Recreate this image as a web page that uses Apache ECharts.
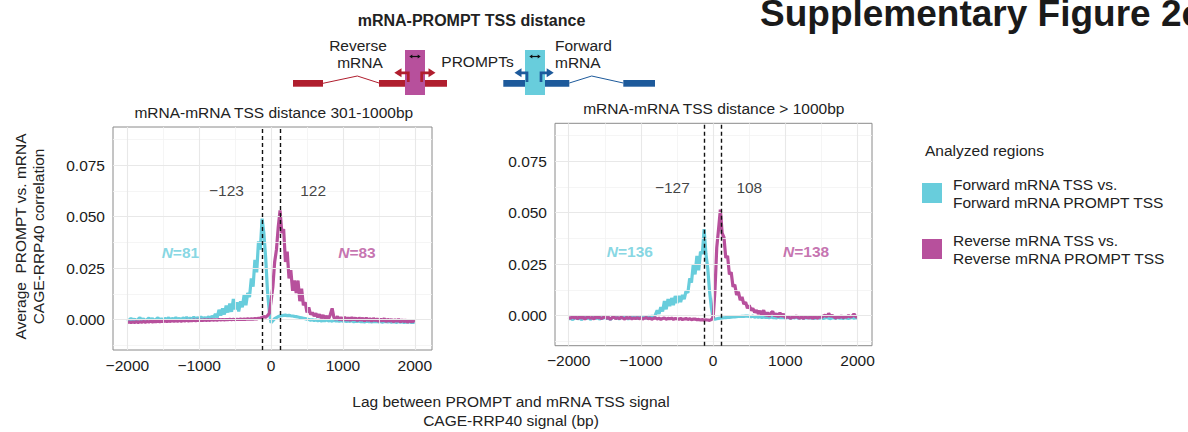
<!DOCTYPE html>
<html>
<head>
<meta charset="utf-8">
<script src="https://cdn.jsdelivr.net/npm/echarts@6/dist/echarts.min.js"></script>
<style>
html,body{margin:0;padding:0;background:#fff;}
#chart{width:1188px;height:432px;}
</style>
</head>
<body>
<div id="chart"></div>
<script>
// Lag between PROMPT and mRNA TSS signal (bp)
const lags = [
  -2000,-1975,-1950,-1925,-1900,-1875,-1850,-1825,-1800,-1775,-1750,-1725,-1700,-1675,-1650,-1625,-1600,-1575,-1550,-1525,
  -1500,-1475,-1450,-1425,-1400,-1375,-1350,-1325,-1300,-1275,-1250,-1225,-1200,-1175,-1150,-1125,-1100,-1075,-1050,-1025,
  -1000,-975,-950,-925,-900,-875,-850,-825,-800,-775,-750,-725,-700,-675,-650,-625,-600,-575,-550,-525,
  -500,-475,-450,-425,-400,-375,-350,-325,-300,-275,-250,-225,-200,-175,-150,-125,-100,-75,-50,-25,
  0,25,50,75,100,125,150,175,200,225,250,275,300,325,350,375,400,425,450,475,
  500,525,550,575,600,625,650,675,700,725,750,775,800,825,850,875,900,925,950,975,
  1000,1025,1050,1075,1100,1125,1150,1175,1200,1225,1250,1275,1300,1325,1350,1375,1400,1425,1450,1475,
  1500,1525,1550,1575,1600,1625,1650,1675,1700,1725,1750,1775,1800,1825,1850,1875,1900,1925,1950,1975,
  2000
];

// Average PROMPT vs. mRNA correlation, in thousandths
// mRNA-mRNA TSS distance 301-1000bp
const forwardA = [
  -0.8,-0.2,0.7,-0.5,0.4,-0.7,0.2,1.0,-0.4,0.5,-0.6,0.1,0.8,-0.3,0.6,-0.5,0.2,0.9,-0.2,0.5,
  -0.4,0.7,0.0,1.0,-0.3,0.6,0.1,1.1,0.0,0.7,-0.2,0.9,0.2,1.2,0.1,0.8,0.3,1.3,0.2,1.0,
  0.5,1.3,0.6,1.0,0.4,1.4,0.8,1.6,1.1,2.8,1.0,4.8,2.0,5.5,2.5,6.8,3.5,7.8,3.8,10.0,
  5.0,8.5,4.0,9.0,6.0,12.0,7.0,13.0,11.0,20.0,16.0,29.0,23.0,38.0,34.0,49.0,42.0,30.0,14.0,4.0,
  -1.5,-0.5,0.5,1.0,1.5,1.8,2.0,2.1,2.2,2.0,2.1,1.9,1.8,1.6,1.5,1.3,1.1,0.9,0.7,0.5,
  0.3,0.1,-0.2,0.0,-0.4,-0.1,-0.5,-0.2,-0.6,-0.3,-0.5,-0.1,-0.6,-0.4,-0.7,-0.3,-0.6,-0.5,-0.8,-0.4,
  -0.7,-0.5,-0.9,-0.6,-0.8,-0.5,-1.0,-0.7,-0.9,-0.6,-1.0,-0.8,-1.1,-0.7,-0.9,-0.8,-1.1,-0.9,-1.0,-0.8,
  -1.1,-0.9,-1.2,-0.8,-1.0,-1.1,-0.9,-1.2,-1.0,-1.1,-1.3,-0.9,-1.2,-1.0,-1.3,-1.1,-1.2,-1.0,-1.3,-1.2,
  -1.3
];
const reverseA = [
  -1.4,-1.1,-1.4,-1.1,-1.3,-1.0,-1.3,-1.0,-1.2,-0.9,-1.2,-0.9,-1.1,-0.8,-1.1,-0.8,-1.0,-0.7,-1.0,-0.7,
  -0.9,-0.6,-0.9,-0.6,-0.8,-0.5,-0.8,-0.5,-0.7,-0.4,-0.7,-0.4,-0.6,-0.3,-0.6,-0.3,-0.5,-0.2,-0.5,-0.2,
  -0.4,-0.2,-0.3,-0.1,-0.3,-0.1,-0.3,0.0,-0.2,0.0,-0.2,0.1,-0.1,0.1,-0.1,0.1,0.0,0.2,0.0,0.2,
  0.0,0.2,0.1,0.3,0.1,0.3,0.2,0.4,0.2,0.4,0.3,0.5,0.4,0.7,0.8,1.1,1.5,1.2,2.0,3.0,
  9.0,16.0,28.0,34.0,45.0,53.0,42.0,44.0,28.0,33.0,20.0,24.0,14.0,19.0,13.0,19.0,9.0,15.0,7.0,8.5,
  3.5,6.0,2.5,3.5,1.8,3.0,1.2,2.6,0.8,2.2,0.6,1.8,0.4,2.5,5.5,1.0,0.2,1.6,-0.2,1.2,
  -0.3,1.3,-0.4,1.0,-0.5,1.2,-0.2,0.9,-0.6,1.0,-0.4,0.8,-0.7,0.9,-0.5,0.6,-0.8,0.7,-0.6,0.5,
  -0.9,0.4,-0.7,0.6,-1.0,0.3,-0.8,0.2,-1.1,0.1,-0.9,0.3,-1.2,0.0,-1.0,-0.1,-1.3,-0.2,-1.1,-0.3,
  -1.2
];
// mRNA-mRNA TSS distance > 1000bp
const forwardB = [
  -1.8,-1.2,-2.0,-1.5,-0.8,-1.7,-1.1,-2.1,-1.3,-0.6,-1.6,-1.0,-1.9,-1.2,-0.5,-1.5,-0.9,-1.8,-1.1,-1.4,
  -0.7,-1.6,-1.0,-1.9,-1.2,-0.4,-1.5,-0.9,-1.7,-1.1,-0.6,-1.4,-0.8,-1.8,-1.0,-0.5,-1.3,-0.7,-1.6,-0.9,
  -0.4,-1.2,-0.6,-1.5,-0.3,-0.9,-0.2,-1.0,0.3,2.5,0.8,4.0,2.0,7.0,3.0,8.0,4.5,8.5,5.0,9.5,
  6.0,9.5,6.5,10.0,8.0,12.0,11.0,18.0,16.0,25.0,20.0,29.0,22.0,31.0,30.0,42.0,30.0,23.0,12.0,4.0,
  -1.5,-1.8,-1.6,-1.4,-1.3,-1.2,-1.1,-1.0,-0.9,-0.9,-0.8,-0.7,-0.7,-0.6,-0.5,-0.5,-0.4,-0.4,-0.3,-0.3,
  -0.4,-0.6,-0.3,-0.8,-0.5,-0.9,-0.6,-1.0,-0.7,-0.9,-0.8,-1.1,-0.7,-1.0,-0.9,-1.2,-0.8,-1.1,-0.9,-1.0,
  -1.2,-0.9,-1.1,-1.3,-1.0,-1.2,-0.9,-1.3,-1.1,-1.0,-1.4,-1.1,-1.2,-1.0,-1.3,-1.1,-1.4,-1.2,-1.0,-1.3,
  -1.1,-1.4,-1.2,-1.0,-1.3,-1.5,-1.1,-1.2,-1.4,-1.0,-1.3,-1.2,-1.5,-1.1,-1.3,-1.4,-1.2,-1.0,-1.3,-1.1,
  -1.2
];
const reverseB = [
  -0.8,-1.5,-0.5,-1.2,-0.9,-1.6,-0.4,-1.3,-0.7,-1.8,-1.0,-0.6,-1.4,-0.9,-1.7,-0.5,-1.1,-0.8,-1.5,-1.0,
  -0.6,-1.4,-0.9,-1.9,-1.1,-0.7,-1.5,-1.0,-1.6,-0.8,-1.3,-1.8,-1.0,-1.4,-0.9,-1.7,-1.2,-1.5,-1.0,-1.6,
  -1.1,-1.7,-1.3,-1.0,-1.6,-1.2,-1.8,-1.4,-1.1,-1.7,-1.3,-1.9,-1.5,-1.2,-1.8,-1.4,-1.6,-1.3,-1.9,-1.5,
  -1.6,-1.8,-1.4,-2.0,-1.7,-1.5,-1.9,-1.6,-2.0,-1.8,-1.7,-2.1,-1.9,-2.2,-2.0,-2.3,-2.1,-2.2,-2.4,-2.0,
  -1.0,12.0,33.0,42.0,51.5,40.0,38.0,28.0,29.0,20.0,21.0,14.0,15.0,10.0,11.5,7.5,9.0,5.5,6.5,3.5,
  5.0,2.5,3.5,1.5,2.5,0.8,2.2,0.2,2.6,-0.2,1.5,-0.5,1.2,2.0,-0.4,1.0,-0.8,1.4,-0.6,0.8,
  -1.2,-0.4,-0.9,-1.4,-0.5,-1.1,-0.2,-1.0,-1.3,-0.6,-1.5,-0.7,-1.0,-1.2,-0.4,-1.4,-0.8,-1.0,-1.3,-0.5,
  -0.9,-0.3,0.2,-0.6,1.0,-0.4,0.0,-0.8,-1.2,-0.5,-1.0,-0.2,-1.1,-0.6,-0.8,0.0,-0.7,-0.4,0.8,-0.6,
  -0.9
];

// Lags of the correlation peaks (dashed lines)
const peakLagsA = [-123, 122];
const peakLagsB = [-127, 108];
// Number of regions per group
const countsA = [81, 83];
const countsB = [136, 138];

const panelTitles = ['mRNA-mRNA TSS distance 301-1000bp', 'mRNA-mRNA TSS distance > 1000bp'];
const seriesNames = ['Forward mRNA TSS vs.\nForward mRNA PROMPT TSS', 'Reverse mRNA TSS vs.\nReverse mRNA PROMPT TSS'];
const xTicks = [-2000, -1000, 0, 1000, 2000];
const xMinorTicks = [-1500, -500, 500, 1500];
const yTicks = [0, 25, 50, 75];
const yMinorTicks = [-12.5, 12.5, 37.5, 62.5, 87.5];

const FONT = '"Liberation Sans", Arial, Helvetica, sans-serif';
const CYAN = '#68CDDC';
const MAGENTA = '#B7509C';
const RED = '#B01E2E';
const BLUE = '#1D5A9B';
const FS = 15.5;

const minus = v => (v < 0 ? '\u2212' + Math.abs(v) : String(v));
const pairs = vals => lags.map((l, i) => [l, vals[i]]);

const grids = [
  { left: 113, top: 127, width: 319, height: 223 },
  { left: 555, top: 123.3, width: 317, height: 222.4 }
];
const xRanges = [[-2200, 2240], [-2190, 2200]];

function xAxisFor(i) {
  return {
    type: 'value', gridIndex: i, min: xRanges[i][0], max: xRanges[i][1],
    axisLine: { show: false },
    splitLine: { show: false },
    axisTick: { show: true, customValues: xTicks, length: 5, lineStyle: { color: '#333', width: 1 } },
    axisLabel: { customValues: xTicks, formatter: minus, margin: 7, color: '#1a1a1a', fontSize: FS, fontFamily: FONT }
  };
}
function yAxisFor(i) {
  return {
    type: 'value', gridIndex: i, min: -14.7, max: 93.5,
    axisLine: { show: false },
    splitLine: { show: false },
    axisTick: { show: true, customValues: yTicks, length: 5, lineStyle: { color: '#333', width: 1 } },
    axisLabel: { customValues: yTicks, formatter: v => (v / 1000).toFixed(3), margin: 8, color: '#1a1a1a', fontSize: FS, fontFamily: FONT }
  };
}

function panelSeries(i, fwd, rev, peaks, counts, peakLabelAt, countLabelAt) {
  const gridLines = [
    ...xMinorTicks.map(v => ({ xAxis: v, lineStyle: { color: '#f3f3f3', width: 0.8 } })),
    ...yMinorTicks.map(v => ({ yAxis: v, lineStyle: { color: '#f3f3f3', width: 0.8 } })),
    ...xTicks.map(v => ({ xAxis: v, lineStyle: { color: '#e8e8e8', width: 1.1 } })),
    ...yTicks.map(v => ({ yAxis: v, lineStyle: { color: '#e8e8e8', width: 1.1 } }))
  ];
  const base = { xAxisIndex: i, yAxisIndex: i, animation: false, silent: true };
  return [
    Object.assign({}, base, {
      name: 'grid' + i, type: 'line', data: [], z: 1,
      markLine: { symbol: ['none', 'none'], silent: true, animation: false, label: { show: false }, lineStyle: { type: 'solid' }, data: gridLines }
    }),
    Object.assign({}, base, {
      name: seriesNames[0], type: 'line', data: pairs(fwd), z: 3,
      showSymbol: false, symbol: 'none', clip: true,
      itemStyle: { color: CYAN }, lineStyle: { color: CYAN, width: 3.2 }
    }),
    Object.assign({}, base, {
      name: seriesNames[1], type: 'line', data: pairs(rev), z: 4,
      showSymbol: false, symbol: 'none', clip: true,
      itemStyle: { color: MAGENTA }, lineStyle: { color: MAGENTA, width: 3.2 }
    }),
    Object.assign({}, base, {
      name: 'peaks' + i, type: 'line', data: [], z: 6,
      markLine: {
        symbol: ['none', 'none'], silent: true, animation: false, label: { show: false },
        lineStyle: { color: '#111', width: 1.4, type: [4, 3] },
        data: peaks.map(v => ({ xAxis: v }))
      }
    }),
    Object.assign({}, base, {
      name: 'labels' + i, type: 'scatter', z: 7, symbolSize: 1,
      itemStyle: { color: 'rgba(0,0,0,0)' },
      label: { show: true, position: 'inside', fontFamily: FONT, fontSize: FS },
      data: [
        { value: peakLabelAt[0], label: { formatter: minus(peaks[0]), color: '#111' } },
        { value: peakLabelAt[1], label: { formatter: minus(peaks[1]), color: '#111' } },
        { value: countLabelAt[0], label: {
            formatter: '{i|N}{b|=' + counts[0] + '}',
            rich: { i: { fontStyle: 'italic', fontWeight: 'bold', color: CYAN, fontSize: FS, fontFamily: FONT },
                    b: { fontWeight: 'bold', color: CYAN, fontSize: FS, fontFamily: FONT } } } },
        { value: countLabelAt[1], label: {
            formatter: '{i|N}{b|=' + counts[1] + '}',
            rich: { i: { fontStyle: 'italic', fontWeight: 'bold', color: MAGENTA, fontSize: FS, fontFamily: FONT },
                    b: { fontWeight: 'bold', color: MAGENTA, fontSize: FS, fontFamily: FONT } } } }
      ]
    })
  ];
}

function txt(x, y, text, style, extra) {
  return Object.assign({
    type: 'text', x: x, y: y, silent: true,
    style: Object.assign({ text: text, fontFamily: FONT, fontSize: FS, fill: '#222', textAlign: 'center', textVerticalAlign: 'middle' }, style || {})
  }, extra || {});
}
function rect(x, y, w, h, fill) {
  return { type: 'rect', silent: true, shape: { x: x, y: y, width: w, height: h }, style: { fill: fill } };
}
function line(points, stroke, width) {
  return { type: 'polyline', silent: true, shape: { points: points }, style: { stroke: stroke, lineWidth: width, fill: null } };
}
function tri(points, fill) {
  return { type: 'polygon', silent: true, shape: { points: points }, style: { fill: fill } };
}

// Gene schematic above the panels
const schematic = [
  // reverse gene
  rect(293, 80, 30, 6.7, RED),
  line([[323, 83.3], [357.3, 76], [379, 83]], RED, 1),
  rect(379, 80, 68, 6.7, RED),
  rect(405, 50, 20, 45, MAGENTA),
  line([[408.3, 82], [408.3, 72.8], [400, 72.8]], RED, 2.7),
  tri([[394.3, 72.8], [401.5, 68.3], [401.5, 77.3]], RED),
  line([[421.7, 82], [421.7, 72.8], [430, 72.8]], RED, 2.7),
  tri([[435.5, 72.8], [428.5, 68.3], [428.5, 77.3]], RED),
  line([[411, 56.5], [419, 56.5]], '#111', 1.2),
  tri([[409.3, 56.5], [412.3, 54.5], [412.3, 58.5]], '#111'),
  tri([[420.7, 56.5], [417.7, 54.5], [417.7, 58.5]], '#111'),
  // forward gene
  rect(503.3, 80, 66, 6.7, BLUE),
  rect(525, 50, 20, 45, CYAN),
  line([[569.3, 83], [591.7, 76], [623.3, 83]], BLUE, 1),
  rect(623.3, 80, 31.7, 6.7, BLUE),
  line([[527, 82], [527, 72.8], [520, 72.8]], BLUE, 2.7),
  tri([[514.5, 72.8], [521.5, 68.3], [521.5, 77.3]], BLUE),
  line([[541, 82], [541, 72.8], [548, 72.8]], BLUE, 2.7),
  tri([[553.7, 72.8], [546.7, 68.3], [546.7, 77.3]], BLUE),
  line([[531, 56.5], [539, 56.5]], '#111', 1.2),
  tri([[529.3, 56.5], [532.3, 54.5], [532.3, 58.5]], '#111'),
  tri([[540.7, 56.5], [537.7, 54.5], [537.7, 58.5]], '#111'),
  // labels
  txt(471.5, 20, 'mRNA-PROMPT TSS distance', { fontWeight: 'bold', fontSize: 16 }),
  txt(358, 45, 'Reverse'),
  txt(360, 62, 'mRNA'),
  txt(477.5, 61, 'PROMPTs'),
  txt(555, 45, 'Forward', { textAlign: 'left' }),
  txt(555, 62, 'mRNA', { textAlign: 'left' })
];

const texts = [
  txt(760, 13.5, 'Supplementary Figure 2c', { fontWeight: 'bold', fontSize: 37, fill: '#1a1a1a', textAlign: 'left' }),
  txt(273.8, 112, panelTitles[0]),
  txt(713.8, 108.3, panelTitles[1]),
  txt(29, 236.5, 'Average  PROMPT vs. mRNA\nCAGE-RRP40 correlation', { lineHeight: 18 }, { rotation: Math.PI / 2 }),
  txt(511, 410.5, 'Lag between PROMPT and mRNA TSS signal\nCAGE-RRP40 signal (bp)', { lineHeight: 19 }),
  txt(925, 150, 'Analyzed regions', { textAlign: 'left' })
];

const chart = echarts.init(document.getElementById('chart'), null, { renderer: 'svg' });
chart.setOption({
  animation: false,
  backgroundColor: '#fff',
  grid: grids.map(g => Object.assign({ show: true, borderColor: '#8a8a8a', borderWidth: 1, backgroundColor: '#fff', containLabel: false }, g)),
  xAxis: [xAxisFor(0), xAxisFor(1)],
  yAxis: [yAxisFor(0), yAxisFor(1)],
  legend: {
    orient: 'vertical', left: 917, top: 170, itemWidth: 20, itemHeight: 20, itemGap: 20,
    icon: 'rect', selectedMode: false, data: seriesNames,
    textStyle: { fontFamily: FONT, fontSize: FS, color: '#222', lineHeight: 18, padding: [0, 0, 0, 6] }
  },
  graphic: schematic.concat(texts),
  series: [].concat(
    panelSeries(0, forwardA, reverseA, peakLagsA, countsA, [[-621, 62.9], [585, 62.9]], [[-1262, 32.6], [1196, 32.6]]),
    panelSeries(1, forwardB, reverseB, peakLagsB, countsB, [[-565, 62.4], [501, 62.4]], [[-1153, 31.0], [1287, 31.0]])
  )
});
</script>
</body>
</html>
